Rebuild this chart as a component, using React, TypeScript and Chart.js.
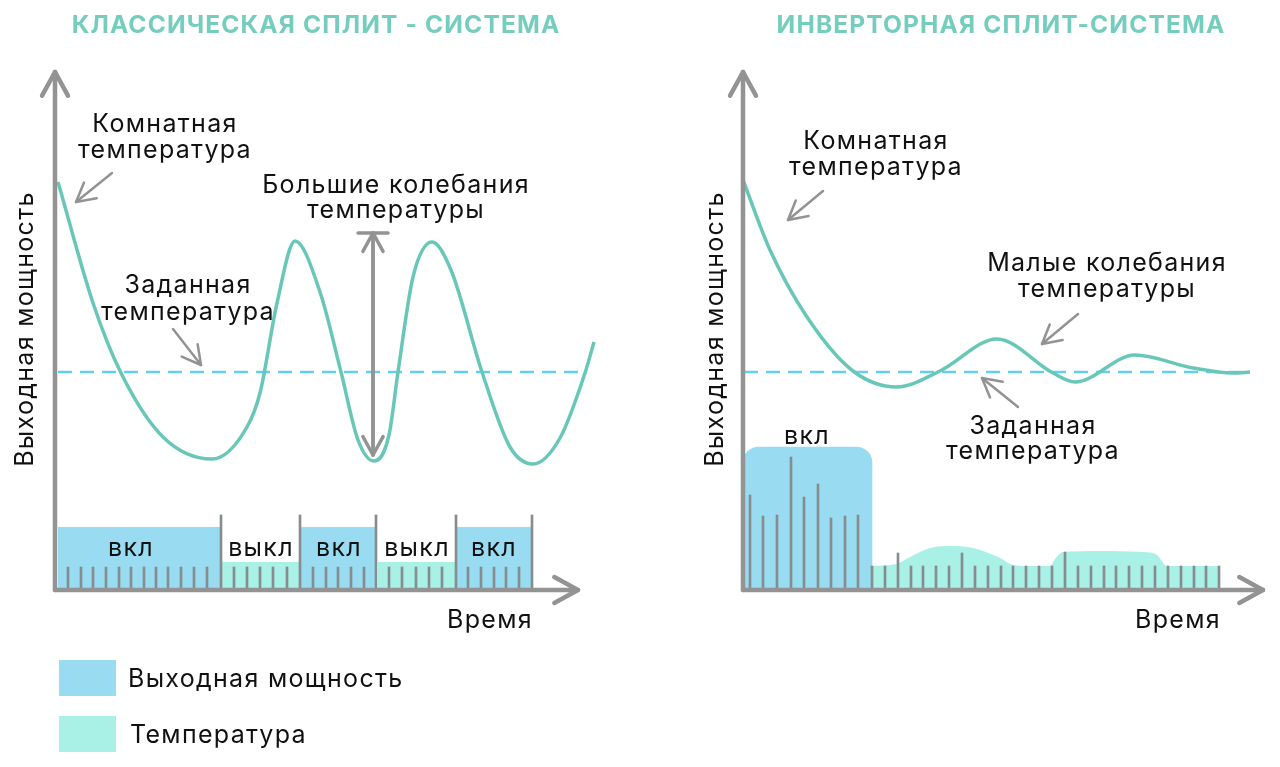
import { useEffect, useRef } from 'react';
import { Chart, registerables } from 'chart.js';

Chart.register(...registerables);

const FONT = 'Inter';
const TEAL = '#68c7b8';
const GRAY = '#939393';
const TICK_GRAY = '#878c8e';
const BLUE = '#99dcf1';
const MINT = '#a9f1e6';

// units: time along x, level along y, origin at the axes crossing
const setpointLevel = 218;

// left: classic split system
const classicTime = [3, 38, 66, 108, 157, 192, 205, 222, 240, 265, 286, 303, 319, 334, 343, 358, 377, 396, 427, 455, 478, 505, 530, 539];
const classicTemp = [408, 287, 217, 153, 131, 163, 197, 287, 349, 298, 218, 150, 129, 155, 218, 313, 348, 320, 218, 143, 126, 152, 217, 248];
const classicOn = [[3, 166], [246, 322], [402, 477]];
const classicOff = [[167, 245], [323, 401]];
const classicOnLevel = 63;
const classicOffLevel = 28;
const classicTickTime = [13, 26, 38, 51, 64, 76, 89, 101, 113, 126, 139, 152, 166, 179, 192, 205, 218, 232, 245, 258, 271, 283, 296, 309, 321, 334, 347, 361, 374, 387, 401, 413, 426, 439, 451, 464, 477];
const classicTickLevel = [23, 23, 23, 23, 23, 23, 23, 23, 23, 23, 23, 23, 75, 23, 23, 23, 23, 23, 75, 23, 23, 23, 23, 23, 75, 23, 23, 23, 23, 23, 75, 23, 23, 23, 23, 23, 75];

// right: inverter split system
const inverterTime = [0, 27, 64, 110, 154, 197, 254, 310, 332, 392, 450, 490, 507];
const inverterTemp = [410, 340, 273, 219, 203, 219, 251, 217, 208, 235, 222, 217, 218];
const inverterHumpTime = [129, 153, 167, 187, 209, 230, 257, 270, 284, 307, 312, 320, 357, 400, 414, 424, 477];
const inverterHumpLevel = [24, 26, 33, 42, 44, 42, 32, 25, 24, 24, 31, 38, 39, 38, 35, 24, 24];
const inverterTickTime = [7, 20, 34, 48, 61, 75, 88, 102, 115, 129, 142, 155, 168, 180, 193, 206, 219, 232, 245, 258, 270, 283, 296, 309, 322, 335, 348, 361, 373, 386, 399, 412, 425, 438, 451, 463, 476];
const inverterTickLevel = [95, 74, 75, 133, 93, 106, 72, 74, 75, 24, 24, 37, 24, 24, 24, 24, 37, 24, 24, 24, 24, 24, 24, 24, 38, 24, 24, 24, 24, 24, 24, 24, 24, 24, 24, 24, 24];
const inverterOnTime = 64.5;
const inverterOnLevel = 143;

const classicLabels = [
  { text: 'Комнатная', x: 110, y: 466 },
  { text: 'температура', x: 110, y: 440 },
  { text: 'Большие колебания', x: 341, y: 405 },
  { text: 'температуры', x: 341, y: 380 },
  { text: 'Заданная', x: 133, y: 305 },
  { text: 'температура', x: 133, y: 278 },
  { text: 'вкл', x: 76, y: 42 },
  { text: 'выкл', x: 206, y: 42 },
  { text: 'вкл', x: 284, y: 42 },
  { text: 'выкл', x: 362, y: 42 },
  { text: 'вкл', x: 439, y: 42 },
  { text: 'Время', x: 435, y: -30 },
];
const inverterLabels = [
  { text: 'Комнатная', x: 133, y: 449 },
  { text: 'температура', x: 133, y: 423 },
  { text: 'Малые колебания', x: 364, y: 327 },
  { text: 'температуры', x: 364, y: 301 },
  { text: 'Заданная', x: 290, y: 164 },
  { text: 'температура', x: 290, y: 139 },
  { text: 'вкл', x: 64, y: 154 },
  { text: 'Время', x: 435, y: -30 },
];

const classicArrows = [
  { from: [57, 417], to: [21, 388] },
  { from: [118, 261], to: [146, 225] },
];
const inverterArrows = [
  { from: [80, 399], to: [45, 370] },
  { from: [335, 276], to: [299, 246] },
  { from: [275, 183], to: [239, 212] },
];

const toPoints = (xs: number[], ys: number[]) => xs.map((x, i) => ({ x, y: ys[i] }));
const spans = (list: number[][], level: number) =>
  list.flatMap(([a, b]) => [{ x: a, y: level }, { x: b, y: level }, { x: b, y: null }]);

function line(ctx: CanvasRenderingContext2D, pts: number[][], color: string, width: number) {
  ctx.beginPath();
  pts.forEach(([x, y], i) => (i ? ctx.lineTo(x, y) : ctx.moveTo(x, y)));
  ctx.strokeStyle = color;
  ctx.lineWidth = width;
  ctx.lineCap = 'round';
  ctx.lineJoin = 'round';
  ctx.stroke();
}

function arrow(ctx: CanvasRenderingContext2D, a: number[], b: number[], len: number, half: number, width: number) {
  const ang = Math.atan2(a[1] - b[1], a[0] - b[0]);
  line(ctx, [a, b], GRAY, width);
  line(
    ctx,
    [
      [b[0] + len * Math.cos(ang + half), b[1] + len * Math.sin(ang + half)],
      b,
      [b[0] + len * Math.cos(ang - half), b[1] + len * Math.sin(ang - half)],
    ],
    GRAY,
    width
  );
}

interface PanelProps {
  left: number;
  padLeft: number;
  padRight: number;
  xMax: number;
  axisEnd: number;
  title: string;
  titleX: number;
  axisLabelX: number;
  labels: { text: string; x: number; y: number }[];
  arrows: { from: number[]; to: number[] }[];
  swing?: { x: number; top: number; bottom: number; cap: number };
  datasets: any[];
}

function Panel({ left, padLeft, padRight, xMax, axisEnd, title, titleX, axisLabelX, labels, arrows, swing, datasets }: PanelProps) {
  const canvasRef = useRef<HTMLCanvasElement | null>(null);

  useEffect(() => {
    if (!canvasRef.current) return;

    const overlay = {
      id: 'overlay',
      afterDatasetsDraw(chart: any) {
        const { ctx, scales } = chart;
        const px = (x: number, y: number) => [scales.x.getPixelForValue(x), scales.y.getPixelForValue(y)];
        ctx.save();

        // axes with arrow heads
        arrow(ctx, px(0, 0), px(0, 518), 27, 0.5, 4.5);
        arrow(ctx, px(0, 0), px(axisEnd, 0), 27, 0.5, 4.5);

        arrows.forEach((a) => arrow(ctx, px(a.from[0], a.from[1]), px(a.to[0], a.to[1]), 21, 0.5, 2.5));

        if (swing) {
          const top = px(swing.x, swing.top);
          const bottom = px(swing.x, swing.bottom);
          line(ctx, [px(swing.x - swing.cap, swing.top), px(swing.x + swing.cap, swing.top)], GRAY, 3.5);
          arrow(ctx, bottom, top, 21, 0.5, 3.5);
          arrow(ctx, top, bottom, 21, 0.5, 3.5);
        }

        ctx.fillStyle = '#111111';
        ctx.textAlign = 'center';
        ctx.textBaseline = 'middle';
        ctx.font = `400 25px ${FONT}`;
        ctx.letterSpacing = '1.3px';
        labels.forEach((l) => {
          const [x, y] = px(l.x, l.y);
          ctx.fillText(l.text, x, y);
        });

        const [ax, ay] = px(axisLabelX, 261);
        ctx.save();
        ctx.translate(ax, ay);
        ctx.rotate(-Math.PI / 2);
        ctx.fillText('Выходная мощность', 0, 0);
        ctx.restore();

        const [tx, ty] = px(titleX, 564);
        ctx.fillStyle = '#74cdbd';
        ctx.font = `700 24.5px ${FONT}`;
        ctx.letterSpacing = '1.15px';
        ctx.fillText(title, tx, ty);
        ctx.restore();
      },
    };

    const chart = new Chart(canvasRef.current, {
      type: 'line',
      data: { datasets },
      options: {
        responsive: false,
        animation: false,
        events: [],
        layout: { padding: { left: padLeft, right: padRight, top: 70, bottom: 177 } },
        scales: {
          x: { type: 'linear', min: 0, max: xMax, offset: false, display: false },
          y: { min: 0, max: 520, display: false },
        },
        plugins: { legend: { display: false }, tooltip: { enabled: false } },
      },
      plugins: [overlay],
    } as any);

    return () => chart.destroy();
  }, []);

  return (
    <canvas
      ref={canvasRef}
      width={640}
      height={767}
      style={{ position: 'absolute', left, top: 0, display: 'block' }}
      aria-label={title}
    />
  );
}

const curve = (label: string, xs: number[], ys: number[]) => ({
  label,
  data: toPoints(xs, ys),
  borderColor: TEAL,
  borderWidth: 3.5,
  pointRadius: 0,
  cubicInterpolationMode: 'monotone',
  clip: false,
  order: 1,
});
const setpoint = (from: number, to: number) => ({
  label: 'Заданная температура',
  data: [{ x: from, y: setpointLevel }, { x: to, y: setpointLevel }],
  borderColor: '#63cfee',
  borderWidth: 2.5,
  borderDash: [14, 8],
  pointRadius: 0,
  clip: false,
  order: 2,
});
const ticks = (xs: number[], ys: number[]) => ({
  type: 'bar',
  label: 'Импульсы',
  data: toPoints(xs, ys),
  backgroundColor: TICK_GRAY,
  barThickness: 2,
  grouped: false,
  order: 3,
});

const classicDatasets = [
  curve('Температура', classicTime, classicTemp),
  setpoint(3, 532),
  ticks(classicTickTime, classicTickLevel),
  { label: 'Выходная мощность', data: spans(classicOn, classicOnLevel), borderWidth: 0, pointRadius: 0, fill: 'origin', backgroundColor: BLUE, order: 4 },
  { label: 'Температура', data: spans(classicOff, classicOffLevel), borderWidth: 0, pointRadius: 0, fill: 'origin', backgroundColor: MINT, order: 4 },
];

const inverterDatasets = [
  curve('Температура', inverterTime, inverterTemp),
  setpoint(1, 507),
  ticks(inverterTickTime, inverterTickLevel),
  {
    type: 'bar',
    label: 'Выходная мощность',
    data: [{ x: inverterOnTime, y: inverterOnLevel }],
    backgroundColor: BLUE,
    barThickness: 129,
    grouped: false,
    borderRadius: { topLeft: 16, topRight: 16 },
    order: 4,
  },
  {
    label: 'Температура',
    data: toPoints(inverterHumpTime, inverterHumpLevel),
    borderWidth: 0,
    pointRadius: 0,
    fill: 'origin',
    backgroundColor: MINT,
    cubicInterpolationMode: 'monotone',
    order: 5,
  },
];

const legendItems = [
  { name: 'Выходная мощность', color: BLUE, top: 660, textLeft: 128 },
  { name: 'Температура', color: MINT, top: 716, textLeft: 130 },
];

export default function App() {
  return (
    <div style={{ position: 'absolute', left: 0, top: 0, width: 1280, height: 767, background: '#fff', overflow: 'hidden' }}>
      <Panel
        left={0}
        padLeft={55}
        padRight={40}
        xMax={545}
        axisEnd={523}
        title="КЛАССИЧЕСКАЯ СПЛИТ - СИСТЕМА"
        titleX={261}
        axisLabelX={-30}
        labels={classicLabels}
        arrows={classicArrows}
        swing={{ x: 318, top: 357, bottom: 135, cap: 15 }}
        datasets={classicDatasets}
      />
      <Panel
        left={640}
        padLeft={103}
        padRight={15}
        xMax={522}
        axisEnd={520}
        title="ИНВЕРТОРНАЯ СПЛИТ-СИСТЕМА"
        titleX={258}
        axisLabelX={-28}
        labels={inverterLabels}
        arrows={inverterArrows}
        datasets={inverterDatasets}
      />
      {legendItems.map((item) => (
        <div key={item.name}>
          <div style={{ position: 'absolute', left: 59, top: item.top, width: 57, height: 36, background: item.color }} />
          <div
            style={{
              position: 'absolute',
              left: item.textLeft,
              top: item.top + 3,
              font: `400 25px ${FONT}`,
              letterSpacing: 1.3,
              lineHeight: '30px',
              color: '#111',
              whiteSpace: 'nowrap',
            }}
          >
            {item.name}
          </div>
        </div>
      ))}
    </div>
  );
}
